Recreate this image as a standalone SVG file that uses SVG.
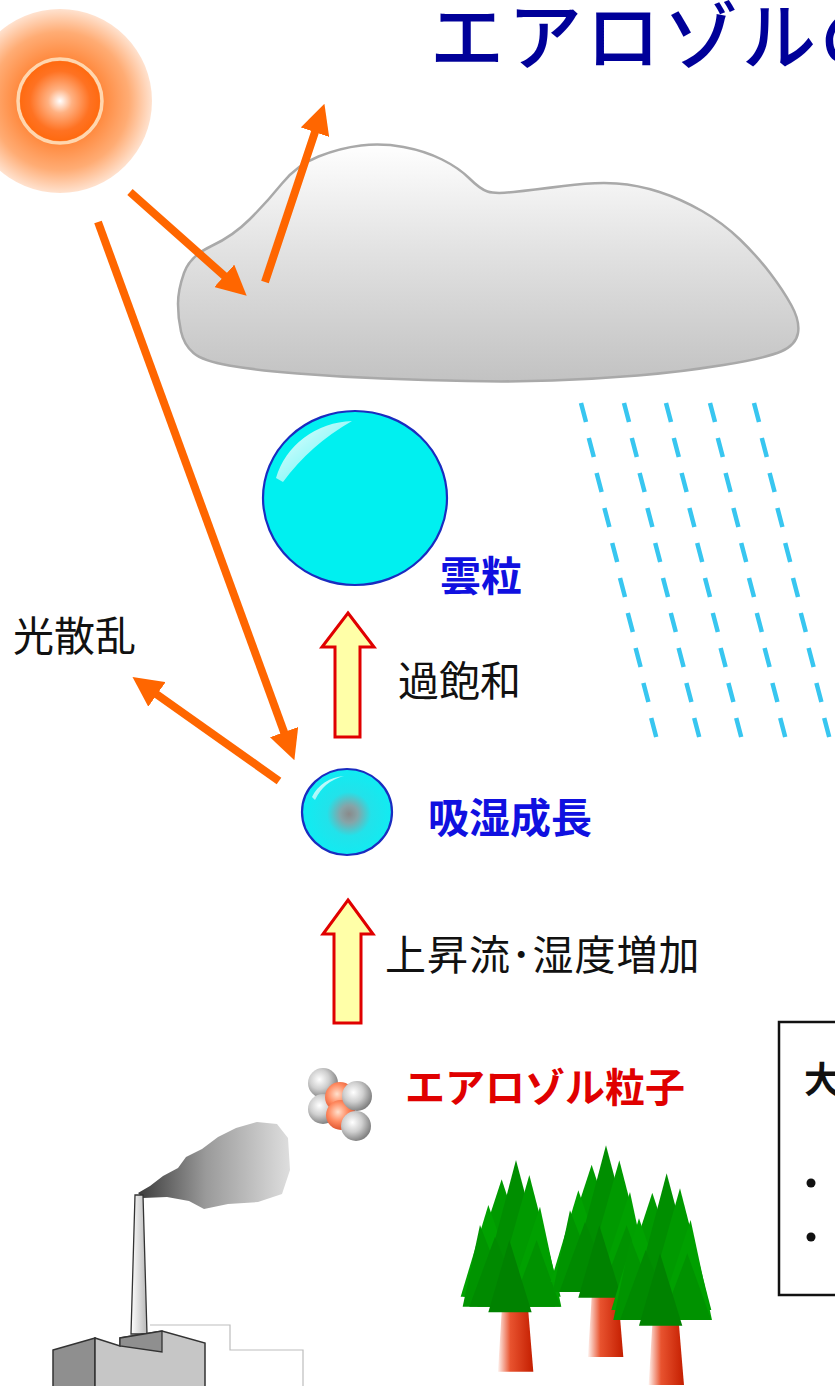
<svg xmlns="http://www.w3.org/2000/svg" xmlns:xlink="http://www.w3.org/1999/xlink" width="835" height="1386" viewBox="0 0 835 1386">
  <style>
    .jp { font-family: "Noto Sans CJK JP", "Noto Sans", sans-serif; }
    .title { font-size: 74px; fill: #000099; letter-spacing: 4px; font-weight: 500; }
    .lbl { font-size: 41px; fill: #111111; }
    .blue { font-size: 41px; fill: #1010e0; font-weight: 700; }
    .red { font-size: 40px; fill: #e00000; font-weight: 700; }
    .ray { stroke: #ff6600; stroke-width: 8; fill: none; marker-end: url(#head); }
    .rain { stroke: #38c6f0; stroke-width: 4.5; fill: none; }
    .block { fill: #ffffa8; stroke: #e00000; stroke-width: 3; stroke-linejoin: miter; }
    .drop { stroke: #1a2cc0; stroke-width: 2.2; }
  </style>
  <defs>
    <marker id="head" viewBox="0 0 10 10" refX="0.6" refY="5" markerUnits="userSpaceOnUse" markerWidth="30" markerHeight="30" orient="auto">
      <path d="M0,0 L10,5 L0,10 Z" fill="#ff6600"/>
    </marker>
    <radialGradient id="sunGlow" cx="60" cy="101" r="92" gradientUnits="userSpaceOnUse">
      <stop offset="0.42" stop-color="#ff8436"/>
      <stop offset="0.75" stop-color="#ffac74"/>
      <stop offset="1" stop-color="#ffe2cf"/>
    </radialGradient>
    <radialGradient id="sunCore" cx="60" cy="101" r="40" gradientUnits="userSpaceOnUse">
      <stop offset="0" stop-color="#ffffff"/>
      <stop offset="0.3" stop-color="#ffb182"/>
      <stop offset="0.75" stop-color="#ff7222"/>
      <stop offset="1" stop-color="#ff6a10"/>
    </radialGradient>
    <linearGradient id="cloudFill" x1="0" y1="143" x2="0" y2="382" gradientUnits="userSpaceOnUse">
      <stop offset="0" stop-color="#ffffff"/>
      <stop offset="0.45" stop-color="#e2e2e2"/>
      <stop offset="1" stop-color="#c2c2c2"/>
    </linearGradient>
    <linearGradient id="shine" x1="0" y1="0" x2="1" y2="1">
      <stop offset="0" stop-color="#ffffff" stop-opacity="0.95"/>
      <stop offset="1" stop-color="#ffffff" stop-opacity="0.3"/>
    </linearGradient>
    <radialGradient id="coreDrop" cx="349" cy="814" r="44" gradientUnits="userSpaceOnUse">
      <stop offset="0" stop-color="#8a8a8a"/>
      <stop offset="0.2" stop-color="#86a4a8"/>
      <stop offset="0.5" stop-color="#22e2ea"/>
      <stop offset="1" stop-color="#10ecf2"/>
    </radialGradient>
    <radialGradient id="graySphere" cx="0.38" cy="0.38" r="0.65">
      <stop offset="0" stop-color="#ffffff"/>
      <stop offset="0.5" stop-color="#cfcfcf"/>
      <stop offset="1" stop-color="#7e7e7e"/>
    </radialGradient>
    <radialGradient id="orangeSphere" cx="0.4" cy="0.4" r="0.65">
      <stop offset="0" stop-color="#ffe0cc"/>
      <stop offset="0.5" stop-color="#ff8a60"/>
      <stop offset="1" stop-color="#d84a26"/>
    </radialGradient>
    <linearGradient id="smoke" x1="137" y1="0" x2="290" y2="0" gradientUnits="userSpaceOnUse">
      <stop offset="0" stop-color="#3a3a3a"/>
      <stop offset="0.45" stop-color="#9a9a9a"/>
      <stop offset="1" stop-color="#dedede"/>
    </linearGradient>
    <linearGradient id="stack" x1="0" y1="0" x2="1" y2="0">
      <stop offset="0" stop-color="#ffffff"/>
      <stop offset="1" stop-color="#b8b8b8"/>
    </linearGradient>
    <linearGradient id="trunk" x1="0" y1="0" x2="1" y2="0">
      <stop offset="0" stop-color="#fff2ee"/>
      <stop offset="0.35" stop-color="#e8532f"/>
      <stop offset="1" stop-color="#c41e00"/>
    </linearGradient>
    <g id="rainRow" class="rain">
      <path d="M581,403l5,19M624,403l5,19M666,403l5,19M710,403l5,19M754,403l5,19"/>
    </g>
    <!-- one conifer, drawn at 3x and scaled down where used -->
    <g id="tree">
      <path d="M185,515 L265,515 L280,695 L174,695 Z" fill="url(#trunk)"/>
      <path d="M185,118 L300,470 L70,470 Z" fill="#009a00"/>
      <path d="M145,195 L240,470 L62,470 Z" fill="#00a200"/>
      <path d="M228,60 L345,500 L112,500 Z" fill="#008e00"/>
      <path d="M268,105 L362,470 L165,470 Z" fill="#009a00"/>
      <path d="M120,255 L215,500 L68,500 Z" fill="#009400"/>
      <path d="M300,200 L364,500 L200,500 Z" fill="#00a000"/>
      <path d="M165,290 L250,500 L88,500 Z" fill="#008a00"/>
      <path d="M290,300 L362,500 L215,500 Z" fill="#009200"/>
      <path d="M208,300 L275,517 L145,517 Z" fill="#008200"/>
    </g>
  </defs>

  <rect width="835" height="1386" fill="#ffffff"/>

  <!-- heading, runs off the right edge -->
  <text class="jp title" x="430" y="64">エアロゾルの</text>

  <!-- sun -->
  <g id="sun">
    <circle cx="60" cy="101" r="92" fill="url(#sunGlow)"/>
    <circle cx="60" cy="101" r="42" fill="none" stroke="#ffd6ae" stroke-width="3.5"/>
    <circle cx="60" cy="101" r="40" fill="url(#sunCore)"/>
  </g>

  <!-- cloud -->
  <g id="cloud">
    <path d="M178,304 Q178,290 184,273 Q190,256 211.5,246 Q233,236 250,219 Q267,202 282,183.5 Q297,165 318.5,156.5 Q340,148 361,145.5 Q382,143 403.5,147 Q425,151 442,159.5 Q459,168 469.5,178.5 Q480,189 487.5,191.5 Q495,194 513.5,192 Q532,190 563.5,186 Q595,182 616.5,183.5 Q638,185 659.5,192 Q681,199 702,211 Q723,223 740,239.5 Q757,256 770,273 Q783,290 791.5,305.5 Q800,321 798,333 Q796,345 781,351.5 Q766,358 723.5,365 Q681,372 638,375.5 Q595,379 552.5,380.5 Q510,382 467.5,381 Q425,380 382.5,378.5 Q340,377 297.5,373.5 Q255,370 229,365.5 Q203,361 193.5,353 Q184,345 181,331.5 Q178,318 178,304 Z" fill="url(#cloudFill)" stroke="#a9a9a9" stroke-width="2.5"/>
  </g>

  <!-- rain -->
  <g id="rain">
    <use href="#rainRow"/>
    <use href="#rainRow" transform="translate(7.8,35)"/>
    <use href="#rainRow" transform="translate(15.6,70)"/>
    <use href="#rainRow" transform="translate(23.4,105)"/>
    <use href="#rainRow" transform="translate(31.2,140)"/>
    <use href="#rainRow" transform="translate(39,175)"/>
    <use href="#rainRow" transform="translate(46.8,210)"/>
    <use href="#rainRow" transform="translate(54.6,245)"/>
    <use href="#rainRow" transform="translate(62.4,280)"/>
    <use href="#rainRow" transform="translate(70.2,315)"/>
  </g>

  <!-- cloud droplet -->
  <g id="cloud-droplet">
    <ellipse class="drop" cx="355" cy="498" rx="92" ry="87" fill="#00f0f0"/>
    <path d="M276,478 A82,77 0 0,1 352,421 Q310,445 283,482 Z" fill="url(#shine)"/>
    <text class="jp blue" x="440" y="591">雲粒</text>
  </g>

  <!-- growing droplet with aerosol core -->
  <g id="wet-droplet">
    <ellipse class="drop" cx="347" cy="812" rx="45" ry="43" fill="url(#coreDrop)"/>
    <path d="M312,797 A38,36 0 0,1 344,776 Q324,781 315,800 Z" fill="url(#shine)"/>
    <text class="jp blue" x="428" y="833" font-size="43">吸湿成長</text>
  </g>

  <!-- aerosol particle -->
  <g id="aerosol">
    <circle cx="323" cy="1083" r="15" fill="url(#graySphere)"/>
    <circle cx="323" cy="1109" r="15" fill="url(#graySphere)"/>
    <circle cx="340" cy="1097" r="15" fill="url(#orangeSphere)"/>
    <circle cx="341" cy="1115" r="15" fill="url(#orangeSphere)"/>
    <circle cx="357" cy="1096" r="15" fill="url(#graySphere)"/>
    <circle cx="356" cy="1126" r="15" fill="url(#graySphere)"/>
    <text class="jp red" x="405" y="1102">エアロゾル粒子</text>
  </g>

  <!-- process steps -->
  <g id="step-supersaturation">
    <path class="block" d="M348,613 L374,647 L360,647 L360,737 L335,737 L335,647 L322,647 Z"/>
    <text class="jp lbl" x="398" y="696">過飽和</text>
  </g>
  <g id="step-updraft">
    <path class="block" d="M348,900 L373,934 L361,934 L361,1023 L334,1023 L334,934 L323,934 Z"/>
    <text class="jp lbl" x="385" y="970" letter-spacing="1">上昇流･湿度増加</text>
  </g>

  <text id="scatter-label" class="jp lbl" x="13" y="651">光散乱</text>

  <!-- light paths -->
  <g id="connectors">
    <line class="ray" x1="130" y1="192" x2="225.6" y2="277"/>
    <line class="ray" x1="265" y1="282" x2="315.5" y2="130.5"/>
    <line class="ray" x1="98" y1="222" x2="284.7" y2="733.8"/>
    <line class="ray" x1="279" y1="781" x2="155.5" y2="693.4"/>
  </g>

  <!-- factory -->
  <g id="factory">
    <path d="M150,1325 L230,1325 L230,1350 L303,1350 L303,1386" fill="none" stroke="#bdbdbd" stroke-width="1.2"/>
    <path d="M138,1193 L150,1186 L163,1176 L178,1168 L186,1157 L202,1149 L218,1137 L236,1128 L257,1122 L277,1124 L288,1138 L290,1170 L282,1194 L258,1202 L228,1204 L204,1209 L189,1201 L167,1197 L143,1198 Z" fill="url(#smoke)"/>
    <path d="M135,1195 L143,1195 L147,1334 L131,1334 Z" fill="url(#stack)" stroke="#333" stroke-width="1.3"/>
    <path d="M53,1350 L95,1338 L95,1387 L53,1387 Z" fill="#8f8f8f" stroke="#333" stroke-width="1.5"/>
    <path d="M95,1338 L120,1346 L120,1338 L162,1331 L205,1343 L205,1387 L95,1387 Z" fill="#c6c6c6" stroke="#333" stroke-width="1.5"/>
    <path d="M120,1338 L162,1331 L162,1352 L120,1346 Z" fill="#8f8f8f" stroke="#333" stroke-width="1.3"/>
  </g>

  <!-- forest -->
  <g id="forest" transform="translate(440,1140) scale(0.3333)">
    <use href="#tree"/>
    <use href="#tree" transform="translate(270,-44)"/>
    <use href="#tree" transform="translate(452,40)"/>
  </g>

  <!-- side panel, clipped by the edge -->
  <g id="panel">
    <rect x="779" y="1022" width="100" height="273" fill="#ffffff" stroke="#111111" stroke-width="2.5"/>
    <text class="jp" x="804" y="1093" font-size="36" font-weight="700" fill="#111111">大</text>
    <circle cx="811" cy="1183" r="4.5" fill="#111111"/>
    <circle cx="811" cy="1237" r="4.5" fill="#111111"/>
  </g>
</svg>
